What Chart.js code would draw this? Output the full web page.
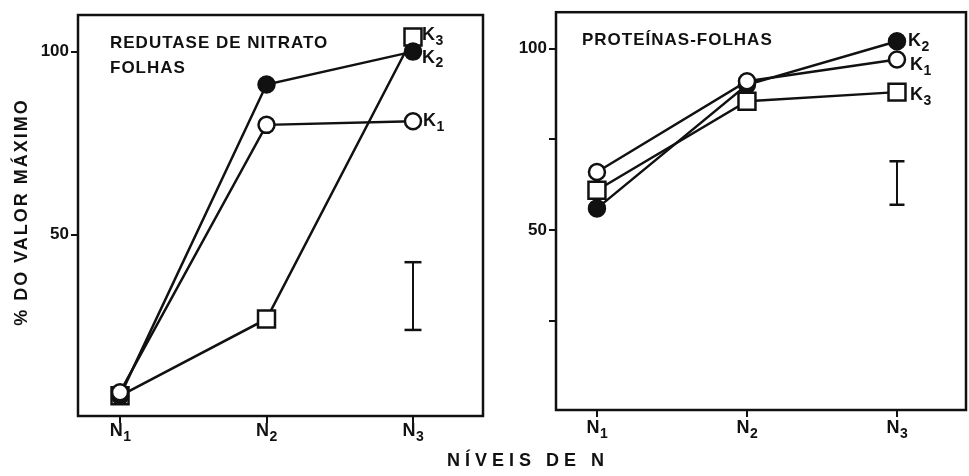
<!DOCTYPE html>
<html>
<head>
<meta charset="utf-8">
<script src="https://cdn.jsdelivr.net/npm/chart.js@4/dist/chart.umd.min.js"></script>
<style>
  body { margin: 0; background: #fff; width: 969px; height: 476px; overflow: hidden; position: relative; }
  canvas { position: absolute; top: 0; }
  #xTitle { position: absolute; left: 447px; top: 450px; font: bold 18px "Liberation Sans", Arial, sans-serif; letter-spacing: 5px; color: #111; }
</style>
</head>
<body>
<canvas id="nitrChart" width="490" height="476" style="left:0"></canvas>
<canvas id="protChart" width="479" height="476" style="left:490px"></canvas>
<div id="xTitle">NÍVEIS DE N</div>
<script>
const categories = ['N\u2081', 'N\u2082', 'N\u2083'];
const seriesNames = ['K\u2081', 'K\u2082', 'K\u2083'];

// redutase de nitrato - folhas (% do valor maximo)
const nitrK1 = [7, 80, 81];
const nitrK2 = [6, 91, 100];
const nitrK3 = [6, 27, 104];
const nitrErr = [24, 42.5];

// proteinas - folhas
const protK1 = [66, 91, 97];
const protK2 = [56, 90, 102];
const protK3 = [61, 85.5, 88];
const protErr = [57, 69];

const nitrYTicks = [50, 100];
const protYTicks = [25, 50, 75, 100];
const labelledYTicks = [50, 100];

const ink = '#111';
const font = '"Liberation Sans", Arial, sans-serif';

function pts(values) {
    return values.map((v, i) => ({ x: i, y: v }));
}

function errPts(range) {
    return range.map(v => ({ x: categories.length - 1, y: v }));
}

// "N₁" -> ["N", "1"] so the index can be drawn a bit larger than the unicode subscript
function splitSub(label) {
    const last = label.charCodeAt(label.length - 1);
    return [label.slice(0, -1), String.fromCharCode(last - 0x2080 + 48)];
}

function drawSub(ctx, label, x, y, centered) {
    const [base, sub] = splitSub(label);
    ctx.font = 'bold 18px ' + font;
    const w1 = ctx.measureText(base).width;
    ctx.font = 'bold 14px ' + font;
    const w2 = ctx.measureText(sub).width;
    const x0 = centered ? x - (w1 + w2) / 2 : x;
    ctx.font = 'bold 18px ' + font;
    ctx.fillText(base, x0, y);
    ctx.font = 'bold 14px ' + font;
    ctx.fillText(sub, x0 + w1 + 0.5, y + 6);
}

function makeDatasets(k1, k2, k3, err, capRadius) {
    const base = { borderColor: ink, borderWidth: 2.5, pointBorderColor: ink, pointBorderWidth: 2.5, showLine: true };
    return [
        { ...base, label: seriesNames[0], data: pts(k1), pointStyle: 'circle', pointRadius: 8, pointBackgroundColor: '#fff' },
        { ...base, label: seriesNames[1], data: pts(k2), pointStyle: 'circle', pointRadius: 8, pointBackgroundColor: ink },
        { ...base, label: seriesNames[2], data: pts(k3), pointStyle: 'rect', pointRadius: 12, pointBackgroundColor: '#fff' },
        { ...base, label: 'erro', data: errPts(err), pointStyle: 'line', pointRadius: capRadius, borderWidth: 2 }
    ];
}

const panelText = {
    id: 'panelText',
    afterDraw(chart, args, opts) {
        const ctx = chart.ctx;
        const a = chart.chartArea;
        ctx.save();
        ctx.strokeStyle = ink;
        ctx.lineWidth = 2.5;
        ctx.strokeRect(a.left, a.top, a.right - a.left, a.bottom - a.top);

        ctx.fillStyle = ink;
        ctx.textBaseline = 'middle';
        ctx.textAlign = 'left';
        ctx.font = 'bold 17px ' + font;
        ctx.letterSpacing = '1px';
        (opts.title || []).forEach(t => ctx.fillText(t.text, t.x, t.y));
        ctx.letterSpacing = '0px';

        // x tick labels with subscripts, placed at the scale's tick pixels
        const xs = chart.scales.x;
        xs.ticks.forEach((t, i) => {
            drawSub(ctx, categories[t.value], xs.getPixelForTick(i), a.bottom + opts.xLabelOffset, true);
        });

        (opts.keys || []).forEach(k => {
            const el = chart.getDatasetMeta(k.ds).data[categories.length - 1];
            drawSub(ctx, chart.data.datasets[k.ds].label, el.x + k.dx, el.y + k.dy, false);
        });

        if (opts.yTitle) {
            ctx.translate(opts.yTitle.x, opts.yTitle.y);
            ctx.rotate(-Math.PI / 2);
            ctx.textAlign = 'center';
            ctx.font = 'bold 18px ' + font;
            ctx.letterSpacing = '2px';
            ctx.fillText(opts.yTitle.text, 0, 0);
        }
        ctx.restore();
    }
};

function makeChart(id, datasets, cfg) {
    return new Chart(document.getElementById(id), {
        type: 'scatter',
        data: { datasets: datasets },
        plugins: [panelText],
        options: {
            responsive: false,
            animation: false,
            layout: { autoPadding: false, padding: { top: cfg.top, right: cfg.right, left: 0, bottom: 0 } },
            plugins: {
                legend: { display: false },
                tooltip: { enabled: false },
                panelText: cfg.text
            },
            scales: {
                x: {
                    type: 'linear',
                    min: cfg.xMin,
                    max: cfg.xMax,
                    afterBuildTicks: s => { s.ticks = categories.map((c, i) => ({ value: i })); },
                    afterFit: s => { s.height = cfg.xAxisHeight; },
                    border: { display: false },
                    grid: { drawOnChartArea: false, drawTicks: true, tickLength: 7, color: ink, lineWidth: 2 },
                    ticks: { display: false }
                },
                y: {
                    min: 0.5,
                    max: 110,
                    afterBuildTicks: s => { s.ticks = cfg.yTicks.map(v => ({ value: v })); },
                    afterFit: s => { s.width = cfg.yAxisWidth; },
                    border: { display: false },
                    grid: { drawOnChartArea: false, drawTicks: true, tickLength: 7, color: ink, lineWidth: 2 },
                    ticks: { color: ink, padding: 2, font: { family: font, size: 17, weight: 'bold' },
                             callback: v => labelledYTicks.includes(v) ? String(v) : '' }
                }
            }
        }
    });
}

makeChart('nitrChart', makeDatasets(nitrK1, nitrK2, nitrK3, nitrErr, 8.5), {
    top: 15, right: 7, xAxisHeight: 60, yAxisWidth: 78,
    xMin: -0.287, xMax: 2.478, yTicks: nitrYTicks,
    text: {
        xLabelOffset: 15,
        title: [{ text: 'REDUTASE DE NITRATO', x: 110, y: 43 }, { text: 'FOLHAS', x: 110, y: 68 }],
        keys: [{ ds: 2, dx: 9, dy: -2 }, { ds: 1, dx: 9, dy: 6 }, { ds: 0, dx: 10, dy: 0 }],
        yTitle: { text: '% DO VALOR MÁXIMO', x: 22, y: 212 }
    }
});

makeChart('protChart', makeDatasets(protK1, protK2, protK3, protErr, 7.5), {
    top: 10, right: 3, xAxisHeight: 66, yAxisWidth: 66,
    xMin: -0.273, xMax: 2.46, yTicks: protYTicks,
    text: {
        xLabelOffset: 18,
        title: [{ text: 'PROTEÍNAS-FOLHAS', x: 92, y: 40 }],
        keys: [{ ds: 1, dx: 11, dy: 0 }, { ds: 0, dx: 13, dy: 6 }, { ds: 2, dx: 13, dy: 3 }]
    }
});
</script>
</body>
</html>
